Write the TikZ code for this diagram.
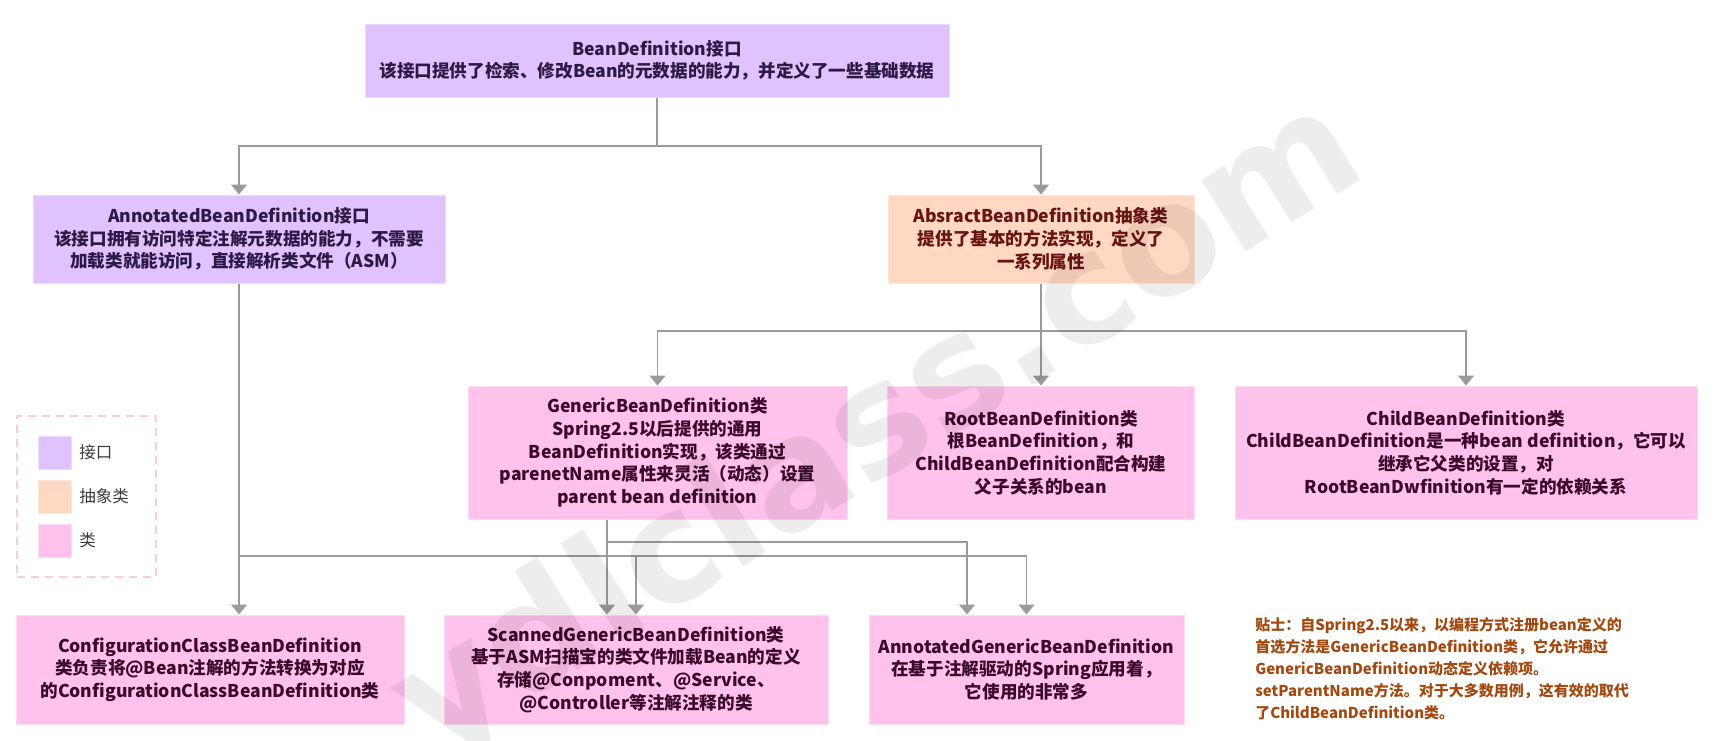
\documentclass[tikz,border=0pt]{standalone}
\usepackage{fontspec}
\setmainfont{Noto Sans CJK SC}
\newfontfamily\markfont{DejaVu Sans}
\usetikzlibrary{arrows.meta}

\definecolor{ifacefill}{RGB}{224,194,255}
\definecolor{ifacetext}{RGB}{45,25,70}
\definecolor{abstrfill}{RGB}{255,216,195}
\definecolor{abstrtext}{RGB}{105,20,20}
\definecolor{clsfill}{RGB}{255,194,236}
\definecolor{clstext}{RGB}{60,10,45}
\definecolor{linkgray}{RGB}{155,155,155}
\definecolor{legendline}{RGB}{255,205,205}
\definecolor{legendtext}{RGB}{60,60,60}
\definecolor{notetext}{RGB}{163,73,16}

\begin{document}
\begin{tikzpicture}[x=0.75pt, y=-0.75pt,
    box/.style={inner sep=0pt, align=center, line width=0.75pt,
        font=\bfseries\fontsize{13.2pt}{17pt}\selectfont},
    ifacebox/.style={box, fill=ifacefill, draw=ifacefill!60!white, text=ifacetext},
    abstrbox/.style={box, fill=abstrfill, draw=abstrfill!60!white, text=abstrtext},
    clsbox/.style={box, fill=clsfill, draw=clsfill!60!white, text=clstext},
    link/.style={draw=linkgray, line width=1.1pt, -{Triangle[length=7.5pt,width=12pt]}}]
    \useasboundingbox (0,0) rectangle (1734,740);

    % top level
    \node[ifacebox, minimum width=438pt, minimum height=54.75pt] (bd) at (657,60.5)
        {BeanDefinition接口\\该接口提供了检索、修改Bean的元数据的能力，并定义了一些基础数据};

    % second level
    \node[ifacebox, minimum width=309pt, minimum height=66pt] (abd) at (239,239)
        {AnnotatedBeanDefinition接口\\该接口拥有访问特定注解元数据的能力，不需要\\加载类就能访问，直接解析类文件（ASM）};
    \node[abstrbox, minimum width=229.5pt, minimum height=66pt] (abs) at (1041,239)
        {AbsractBeanDefinition抽象类\\提供了基本的方法实现，定义了\\一系列属性};

    % third level
    \node[clsbox, minimum width=284.25pt, minimum height=99.75pt] (gbd) at (657.5,452.5)
        {GenericBeanDefinition类\\Spring2.5以后提供的通用\\BeanDefinition实现，该类通过\\parenetName属性来灵活（动态）设置\\parent bean definition};
    \node[clsbox, minimum width=230.25pt, minimum height=99.75pt] (rbd) at (1041,452.5)
        {RootBeanDefinition类\\根BeanDefinition，和\\ChildBeanDefinition配合构建\\父子关系的bean};
    \node[clsbox, minimum width=346.5pt, minimum height=99.75pt] (cbd) at (1466,452.5)
        {ChildBeanDefinition类\\ChildBeanDefinition是一种bean definition，它可以\\继承它父类的设置，对\\RootBeanDwfinition有一定的依赖关系};

    % bottom level
    \node[clsbox, minimum width=291pt, minimum height=81.75pt] (ccbd) at (210,669.5)
        {ConfigurationClassBeanDefinition\\类负责将@Bean注解的方法转换为对应\\的ConfigurationClassBeanDefinition类};
    \node[clsbox, minimum width=288pt, minimum height=81.75pt] (sgbd) at (636,669.5)
        {ScannedGenericBeanDefinition类\\基于ASM扫描宝的类文件加载Bean的定义\\存储@Conpoment、@Service、\\@Controller等注解注释的类};
    \node[clsbox, minimum width=236.25pt, minimum height=81.75pt] (agbd) at (1026.5,669.5)
        {AnnotatedGenericBeanDefinition\\在基于注解驱动的Spring应用着，\\它使用的非常多};

    % connectors
    \draw[link] (bd.south) -- (bd.south |- 0,146) -| (abd.north);
    \draw[link] (bd.south) -- (bd.south |- 0,146) -| (abs.north);
    \draw[link] (abs.south) -- (abs.south |- 0,331) -| (gbd.north);
    \draw[link] (abs.south) -- (rbd.north);
    \draw[link] (abs.south) -- (abs.south |- 0,331) -| (cbd.north);
    \draw[link] (abd.south) -- (abd.south |- ccbd.north);
    \draw[link] (abd.south) -- (abd.south |- 0,556) -| (sgbd.north);
    \draw[link] (abd.south) -- (abd.south |- 0,556) -| (agbd.north);
    \draw[link] (gbd.south -| 607,0) -- (sgbd.north -| 607,0);
    \draw[link] (gbd.south -| 607,0) -- (607,542) -| (agbd.north -| 967,0);

    % legend
    \node[draw=legendline, dash pattern=on 6pt off 4.5pt, line width=0.9pt,
        minimum width=104.25pt, minimum height=120.75pt] (legend) at (86.5,496.5) {};
    \foreach \name/\col/\lbl/\y in {iface/ifacefill/接口/452.5, abstr/abstrfill/抽象类/496.5, cls/clsfill/类/540.5} {
        \node[fill=\col, draw=\col!60!white, line width=0.75pt, minimum size=24.75pt, inner sep=0pt] (key\name) at (54.5,\y) {};
        \node[anchor=west, text=legendtext, inner sep=0pt,
            font=\fontsize{12.4pt}{15pt}\selectfont] (lbl\name) at (79,\y) {\lbl};
    }

    % tip
    \node[anchor=west, align=left, inner sep=0pt, text=notetext,
        font=\bfseries\fontsize{11.25pt}{16.5pt}\selectfont] (note) at (1255,668.5)
        {贴士：自Spring2.5以来，以编程方式注册bean定义的\\首选方法是GenericBeanDefinition类，它允许通过\\GenericBeanDefinition动态定义依赖项。\\setParentName方法。对于大多数用例，这有效的取代\\了ChildBeanDefinition类。};

    % watermark
    \node[rotate=32, text=black, text opacity=0.07, inner sep=0pt,
        font=\markfont\bfseries\fontsize{115pt}{115pt}\selectfont] (mark) at (880,432) {ydlclass.com};
\end{tikzpicture}
\end{document}
